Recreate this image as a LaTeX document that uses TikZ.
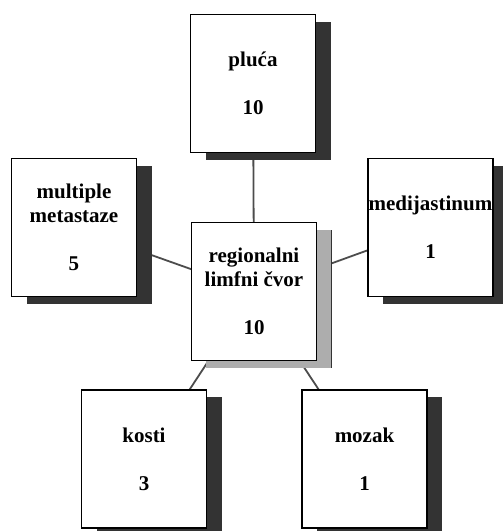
\documentclass[tikz,border=0pt]{standalone}
\usepackage{fontspec}
\setmainfont{Liberation Serif}
\usepackage{tikz}
\usetikzlibrary{positioning, shadows, backgrounds}

\begin{document}
\begin{tikzpicture}[x=1pt, y=-1pt,
        box/.style={draw=black, line width=1.2pt, fill=white, inner sep=0pt,
            minimum width=125pt, minimum height=138pt, align=center,
            font=\fontsize{21}{24}\selectfont\bfseries,
            drop shadow={shadow xshift=15pt, shadow yshift=-7pt, fill=black!80, opacity=1}},
        centerbox/.style={box,
            drop shadow={shadow xshift=14pt, shadow yshift=-7pt, fill=black!32, opacity=1}},
        link/.style={draw=black!70, line width=1.8pt}
    ]
    \useasboundingbox (0,0) rectangle (503,531);

    % center
    \node[centerbox] (limf) at (254,291.5) {regionalni\\limfni čvor\\[24pt]10};

    % sites
    \node[box] (pluca) at (253,83.5) {pluća\\[24pt]10};
    \node[box] (multi) at (74,227.5) {multiple\\metastaze\\[24pt]5};
    \node[box] (medij) at (430.5,227.5) {medijastinum\\[24pt]1};
    \node[box] (kosti) at (144,459) {kosti\\[24pt]3};
    \node[box] (mozak) at (364.5,459) {mozak\\[24pt]1};

    % links behind the boxes
    \begin{scope}[on background layer]
        \foreach \site in {pluca, multi, medij, kosti, mozak}
            \draw[link] (limf.center) -- (\site.center);
    \end{scope}
\end{tikzpicture}
\end{document}
